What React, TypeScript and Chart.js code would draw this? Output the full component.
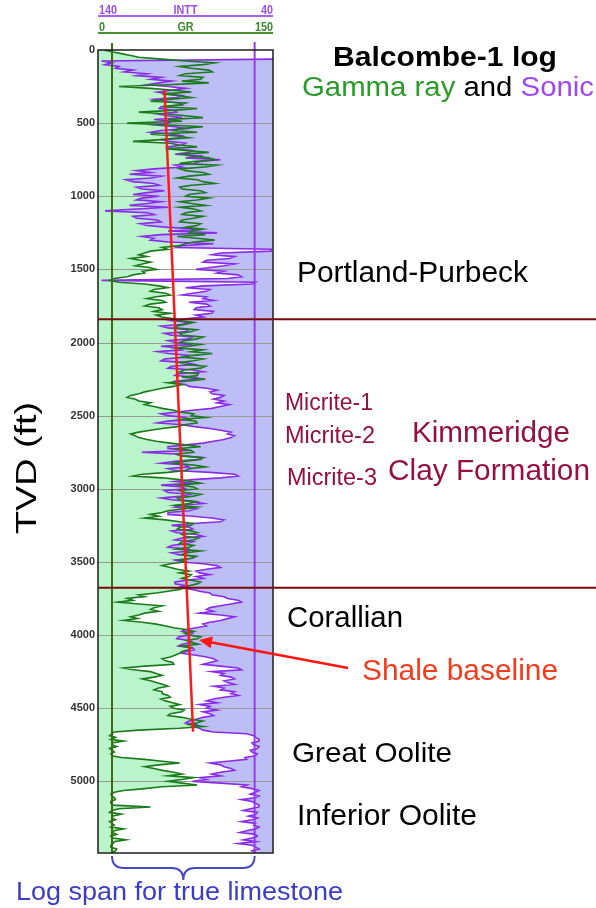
import React, { useEffect, useRef } from "react";
import { Chart, registerables } from "chart.js";

Chart.register(...registerables);

// ---------- DATA ----------
// Depth sampling grid (ft TVD), 12.5 ft spacing
const DEPTH_FT: number[] = Array.from({ length: 440 }, (_, i) => i * 12.5);

// Gamma ray (API), 40 samples per 500 ft
const GR_API: number[] = [
  // 0-487.5
  5, 12, 20, 28, 35, 55, 75, 100, 90, 70, 80, 95, 98, 75, 70, 90, 88, 72, 95, 60,
  18, 45, 65, 80, 55, 70, 80, 60, 45, 75, 70, 55, 85, 65, 35, 60, 75, 90, 60, 72,
  // 500-987.5
  25, 60, 90, 70, 65, 85, 45, 68, 78, 55, 30, 62, 70, 85, 58, 75, 95, 72, 80, 95,
  100, 82, 70, 102, 92, 70, 75, 90, 95, 78, 68, 85, 90, 100, 80, 70, 72, 88, 92, 78,
  // 1000-1487.5
  75, 95, 85, 70, 80, 92, 70, 82, 88, 75, 72, 90, 82, 72, 70, 88, 85, 75, 90, 80,
  78, 92, 68, 85, 100, 82, 75, 70, 55, 60, 45, 40, 35, 42, 28, 36, 45, 38, 32, 44,
  // 1500-1987.5
  50, 38, 40, 30, 25, 14, 10, 18, 40, 52, 60, 48, 45, 58, 62, 50, 42, 55, 58, 45,
  40, 52, 55, 48, 62, 50, 55, 65, 70, 82, 75, 68, 65, 85, 80, 70, 72, 90, 85, 74,
  // 2000-2487.5
  70, 88, 78, 68, 90, 80, 98, 82, 72, 90, 82, 70, 75, 92, 88, 74, 70, 86, 85, 72,
  92, 78, 60, 72, 65, 55, 48, 40, 35, 28, 25, 32, 35, 45, 40, 48, 55, 65, 70, 82,
  // 2500-2987.5
  80, 92, 72, 84, 85, 74, 68, 55, 45, 35, 28, 32, 35, 42, 50, 62, 75, 88, 68, 80,
  82, 68, 72, 90, 88, 74, 65, 82, 92, 78, 75, 60, 38, 30, 55, 70, 80, 88, 70, 82,
  // 3000-3487.5
  85, 70, 75, 88, 82, 68, 70, 84, 78, 66, 85, 74, 60, 55, 45, 52, 40, 58, 70, 82,
  80, 70, 68, 80, 85, 72, 75, 86, 82, 72, 70, 82, 78, 68, 88, 76, 72, 84, 80, 70,
  // 3500-3987.5
  75, 62, 55, 62, 68, 78, 70, 80, 78, 72, 80, 88, 85, 78, 75, 70, 60, 50, 35, 40,
  25, 30, 17, 35, 55, 48, 45, 52, 40, 35, 28, 34, 22, 38, 50, 58, 65, 75, 82, 74,
  // 4000-4487.5
  78, 88, 85, 76, 80, 86, 72, 80, 78, 72, 70, 66, 62, 55, 58, 64, 65, 40, 22, 30,
  45, 50, 55, 48, 38, 45, 50, 56, 60, 52, 48, 55, 55, 60, 62, 54, 58, 64, 70, 62,
  // 4500-4987.5
  65, 74, 72, 62, 60, 72, 80, 90, 85, 78, 90, 70, 35, 14, 12, 10, 15, 11, 22, 12,
  12, 16, 10, 12, 14, 11, 12, 20, 40, 55, 70, 52, 40, 48, 55, 65, 72, 60, 82, 72,
  // 5000-5487.5
  60, 72, 85, 55, 40, 22, 14, 11, 12, 14, 15, 11, 11, 13, 45, 18, 12, 10, 20, 13,
  12, 15, 10, 12, 14, 11, 22, 14, 12, 16, 11, 13, 24, 14, 13, 11, 11, 16, 15, 12,
];

// Sonic interval transit time (us/ft), 40 samples per 500 ft
const INTT_US_FT: (number | null)[] = [
  // 0-487.5
  null, null, null, null, null, 40, 138, 132, 136, 128, 130, 120, 125, 112, 118, 104, 110, 98, 105, 112,
  100, 90, 98, 106, 100, 92, 95, 108, 102, 94, 92, 104, 105, 96, 95, 106, 100, 92, 108, 98,
  // 500-987.5
  100, 108, 96, 90, 104, 110, 98, 92, 94, 104, 100, 90, 92, 100, 97, 86, 88, 96, 80, 90,
  70, 82, 85, 96, 92, 108, 118, 110, 122, 104, 110, 124, 120, 108, 105, 118, 115, 102, 112, 120,
  // 1000-1487.5
  105, 115, 118, 104, 112, 122, 100, 118, 136, 112, 108, 120, 118, 106, 104, 116, 112, 100, 80, 100,
  72, 104, 115, 108, 110, 100, 74, 92, 95, 41, 41, 70, 75, 62, 65, 78, 80, 62, 68, 76,
  // 1500-1987.5
  84, 68, 72, 60, 58, 66, 138, 50, 52, 80, 90, 76, 78, 86, 92, 78, 80, 74, 88, 78,
  76, 84, 85, 74, 75, 84, 80, 90, 98, 88, 92, 104, 100, 88, 90, 102, 98, 86, 88, 100,
  // 2000-2487.5
  96, 86, 104, 94, 92, 106, 100, 88, 90, 102, 104, 90, 85, 98, 100, 86, 80, 94, 96, 84,
  82, 96, 98, 90, 88, 78, 72, 76, 75, 68, 70, 74, 68, 72, 65, 70, 75, 86, 95, 104,
  // 2500-2987.5
  100, 90, 88, 100, 106, 92, 85, 76, 70, 64, 66, 62, 64, 68, 74, 80, 90, 100, 100, 88,
  115, 96, 92, 80, 84, 96, 104, 90, 88, 100, 96, 76, 62, 60, 70, 86, 96, 86, 104, 92,
  // 3000-3487.5
  90, 102, 100, 88, 92, 104, 98, 86, 80, 92, 96, 84, 88, 100, 100, 86, 75, 68, 70, 86,
  98, 88, 86, 98, 95, 84, 80, 92, 96, 86, 90, 98, 100, 88, 88, 98, 94, 84, 86, 96,
  // 3500-3987.5
  92, 80, 72, 70, 78, 84, 82, 76, 84, 80, 90, 96, 96, 90, 94, 86, 82, 76, 75, 68,
  66, 60, 58, 64, 70, 76, 78, 74, 82, 70, 62, 66, 70, 76, 80, 78, 84, 90, 92, 86,
  // 4000-4487.5
  88, 94, 95, 88, 86, 92, 94, 86, 85, 90, 92, 84, 78, 74, 72, 76, 80, 70, 60, 58,
  75, 68, 70, 64, 62, 68, 66, 62, 74, 68, 70, 62, 64, 60, 68, 74, 78, 72, 82, 76,
  // 4500-4987.5
  78, 72, 80, 76, 74, 80, 84, 88, 90, 84, 86, 82, 80, 74, 55, 51, 50, 48, 48, 52,
  51, 48, 49, 53, 52, 49, 50, 56, 55, 66, 76, 70, 68, 64, 62, 70, 75, 70, 82, 78,
  // 5000-5487.5
  86, 70, 55, 58, 52, 48, 50, 53, 48, 50, 58, 52, 50, 48, 48, 53, 57, 49, 50, 54,
  49, 52, 58, 50, 51, 48, 50, 55, 59, 50, 49, 52, 57, 50, 60, 52, 50, 48, 52, 50,
];

const SHALE_BASELINE_DEPTH_FT = [275, 4660];
const SHALE_BASELINE_GR = [57, 81.5];
const FORMATION_TOPS_FT = [1840, 3676];
const DEPTH_TICKS_FT = [0, 500, 1000, 1500, 2000, 2500, 3000, 3500, 4000, 4500, 5000];
const LIMESTONE_GR = 12;
const LIMESTONE_INTT = 50.5;
const DEPTH_MAX_FT = 5490;
const GR_MIN = 0;
const GR_MAX = 150;
const INTT_LEFT = 140;
const INTT_RIGHT = 40;

// ---------- STYLE ----------
const FONT = '"Liberation Sans", Arial, Helvetica, sans-serif';
const W = 596;
const H = 908;

type Run = { text: string; color: string };
type Label = {
  runs: Run[];
  x: number;
  y: number;
  size: number;
  bold?: boolean;
  width?: number;
  align?: "left" | "center";
};

const KIM = "#931040";
const LABELS: Label[] = [
  { runs: [{ text: "Balcombe-1 log", color: "#000" }], x: 445, y: 66, size: 28, bold: true, width: 224, align: "center" },
  {
    runs: [
      { text: "Gamma ray", color: "#2a9a2a" },
      { text: " and ", color: "#000" },
      { text: "Sonic", color: "#a048f0" },
    ],
    x: 448, y: 96, size: 27, width: 292, align: "center",
  },
  { runs: [{ text: "Portland-Purbeck", color: "#000" }], x: 297, y: 282, size: 30, width: 231 },
  { runs: [{ text: "Micrite-1", color: KIM }], x: 285, y: 410, size: 23, width: 88 },
  { runs: [{ text: "Micrite-2", color: KIM }], x: 285, y: 443, size: 23, width: 90 },
  { runs: [{ text: "Micrite-3", color: KIM }], x: 287, y: 485, size: 23, width: 90 },
  { runs: [{ text: "Kimmeridge", color: KIM }], x: 412, y: 442, size: 30, width: 158 },
  { runs: [{ text: "Clay Formation", color: KIM }], x: 388, y: 480, size: 30, width: 202 },
  { runs: [{ text: "Corallian", color: "#000" }], x: 287, y: 627, size: 30, width: 116 },
  { runs: [{ text: "Shale baseline", color: "#f03c1c" }], x: 362, y: 680, size: 30, width: 196 },
  { runs: [{ text: "Great Oolite", color: "#000" }], x: 292, y: 762, size: 28, width: 160 },
  { runs: [{ text: "Inferior Oolite", color: "#000" }], x: 297, y: 825, size: 30, width: 180 },
  { runs: [{ text: "Log span for true limestone", color: "#3c3cc4" }], x: 16, y: 900, size: 26, width: 327 },
];

function drawLabel(ctx: CanvasRenderingContext2D, l: Label) {
  ctx.save();
  ctx.font = `${l.bold ? "bold " : ""}${l.size}px ${FONT}`;
  ctx.textBaseline = "alphabetic";
  ctx.textAlign = "left";
  const total = l.runs.reduce((s, r) => s + ctx.measureText(r.text).width, 0);
  const sx = l.width ? l.width / total : 1;
  const w = total * sx;
  const x0 = l.align === "center" ? l.x - w / 2 : l.x;
  ctx.translate(x0, l.y);
  ctx.scale(sx, 1);
  let cx = 0;
  for (const r of l.runs) {
    ctx.fillStyle = r.color;
    ctx.fillText(r.text, cx, 0);
    cx += ctx.measureText(r.text).width;
  }
  ctx.restore();
}

function drawHeader(
  ctx: CanvasRenderingContext2D,
  left: number,
  right: number,
  lineY: number,
  textColor: string,
  lineColor: string,
  lo: string,
  name: string,
  hi: string
) {
  ctx.save();
  ctx.strokeStyle = lineColor;
  ctx.lineWidth = 2;
  ctx.beginPath();
  ctx.moveTo(left, lineY);
  ctx.lineTo(right, lineY);
  ctx.stroke();
  ctx.font = `bold 12px ${FONT}`;
  ctx.fillStyle = textColor;
  ctx.textBaseline = "alphabetic";
  const by = lineY - 2;
  const put = (t: string, x: number, align: "left" | "center" | "right") => {
    ctx.save();
    ctx.textAlign = align;
    ctx.translate(x, by);
    ctx.scale(0.9, 1);
    ctx.fillText(t, 0, 0);
    ctx.restore();
  };
  put(lo, left + 1, "left");
  put(name, (left + right) / 2, "center");
  put(hi, right, "right");
  ctx.restore();
}

const logDecor = {
  id: "logDecor",
  beforeDatasetsDraw(chart: any) {
    const { ctx, chartArea: a, scales } = chart;
    const y = scales.y;
    ctx.save();
    ctx.strokeStyle = "#989898";
    ctx.lineWidth = 1;
    for (const t of y.ticks) {
      if (t.value <= 0) continue;
      const py = Math.round(y.getPixelForValue(t.value)) + 0.5;
      ctx.beginPath();
      ctx.moveTo(a.left, py);
      ctx.lineTo(a.right, py);
      ctx.stroke();
    }
    ctx.restore();
  },
  afterDatasetsDraw(chart: any) {
    const { ctx, chartArea: a, scales } = chart;
    const y = scales.y;
    const gr = scales.gr;
    const intt = scales.intt;
    ctx.save();
    const gx = gr.getPixelForValue(LIMESTONE_GR);
    const px = intt.getPixelForValue(LIMESTONE_INTT);
    ctx.lineWidth = 2;
    ctx.strokeStyle = "#3f6a12";
    ctx.beginPath();
    ctx.moveTo(gx, a.top - 7);
    ctx.lineTo(gx, a.bottom);
    ctx.stroke();
    ctx.strokeStyle = "#9b35f5";
    ctx.beginPath();
    ctx.moveTo(px, a.top - 8);
    ctx.lineTo(px, a.bottom);
    ctx.stroke();
    ctx.strokeStyle = "#1c1c1c";
    ctx.lineWidth = 1.5;
    ctx.strokeRect(a.left, a.top, a.right - a.left, a.bottom - a.top);
    ctx.strokeStyle = "#7a0a0a";
    ctx.lineWidth = 2;
    for (const d of FORMATION_TOPS_FT) {
      const py = y.getPixelForValue(d);
      ctx.beginPath();
      ctx.moveTo(a.left, py);
      ctx.lineTo(W, py);
      ctx.stroke();
    }
    ctx.restore();
  },
  afterDraw(chart: any) {
    const { ctx, chartArea: a, scales } = chart;
    const gr = scales.gr;
    const intt = scales.intt;
    drawHeader(ctx, intt.getPixelForValue(INTT_LEFT), intt.getPixelForValue(INTT_RIGHT), 16, "#9c4ee8", "#a660ea", String(INTT_LEFT), "INTT", String(INTT_RIGHT));
    drawHeader(ctx, gr.getPixelForValue(GR_MIN), gr.getPixelForValue(GR_MAX), 33, "#3a8c2a", "#4a9030", String(GR_MIN), "GR", String(GR_MAX));

    ctx.save();
    ctx.font = `30px ${FONT}`;
    ctx.fillStyle = "#000";
    ctx.textAlign = "center";
    ctx.textBaseline = "alphabetic";
    const tw = ctx.measureText("TVD (ft)").width;
    ctx.translate(36, 468);
    ctx.rotate(-Math.PI / 2);
    ctx.scale(132 / tw, 1);
    ctx.fillText("TVD (ft)", 0, 0);
    ctx.restore();

    for (const l of LABELS) drawLabel(ctx, l);

    ctx.save();
    ctx.strokeStyle = "#ff1414";
    ctx.fillStyle = "#ff1414";
    ctx.lineWidth = 2.5;
    const x1 = 348, y1 = 668, x2 = 199, y2 = 640;
    const ang = Math.atan2(y2 - y1, x2 - x1);
    ctx.beginPath();
    ctx.moveTo(x1, y1);
    ctx.lineTo(x2 - 8 * Math.cos(ang), y2 - 8 * Math.sin(ang));
    ctx.stroke();
    ctx.beginPath();
    ctx.moveTo(x2, y2);
    ctx.lineTo(x2 - 13 * Math.cos(ang) + 6 * Math.sin(ang), y2 - 13 * Math.sin(ang) - 6 * Math.cos(ang));
    ctx.lineTo(x2 - 13 * Math.cos(ang) - 6 * Math.sin(ang), y2 - 13 * Math.sin(ang) + 6 * Math.cos(ang));
    ctx.closePath();
    ctx.fill();
    ctx.restore();

    const gx = gr.getPixelForValue(LIMESTONE_GR);
    const px = intt.getPixelForValue(LIMESTONE_INTT);
    const mx = (gx + px) / 2;
    const top = a.bottom + 3;
    const mid = a.bottom + 15;
    const tip = a.bottom + 27;
    ctx.save();
    ctx.strokeStyle = "#4646cc";
    ctx.lineWidth = 2;
    ctx.beginPath();
    ctx.moveTo(gx, top);
    ctx.quadraticCurveTo(gx, mid, gx + 12, mid);
    ctx.lineTo(mx - 12, mid);
    ctx.quadraticCurveTo(mx, mid, mx, tip);
    ctx.quadraticCurveTo(mx, mid, mx + 12, mid);
    ctx.lineTo(px - 12, mid);
    ctx.quadraticCurveTo(px, mid, px, top);
    ctx.stroke();
    ctx.restore();
  },
};

export default function App() {
  const ref = useRef<HTMLCanvasElement>(null);

  useEffect(() => {
    const canvas = ref.current;
    if (!canvas) return;
    const toPoints = (vals: (number | null)[]) =>
      DEPTH_FT.map((d, i) => ({ y: d, x: vals[i] })).filter((p) => p.x !== null && p.x !== undefined);
    const grPts = toPoints(GR_API);
    const inttPts = toPoints(INTT_US_FT);
    const basePts = SHALE_BASELINE_DEPTH_FT.map((d, i) => ({ y: d, x: SHALE_BASELINE_GR[i] }));

    const chart = new Chart(canvas, {
      type: "line",
      data: {
        datasets: [
          { label: "Shale baseline", data: basePts, xAxisID: "gr", yAxisID: "y", borderColor: "#ff1a1a", borderWidth: 2.5, pointRadius: 0, fill: false },
          { label: "GR", data: grPts, xAxisID: "gr", yAxisID: "y", borderColor: "#1b7a1b", borderWidth: 1.6, pointRadius: 0, fill: false },
          { label: "INTT", data: inttPts, xAxisID: "intt", yAxisID: "y", borderColor: "#8a2be6", borderWidth: 1.6, pointRadius: 0, fill: false },
          { label: "INTT fill", data: inttPts, xAxisID: "intt", yAxisID: "y", borderColor: "rgba(0,0,0,0)", borderWidth: 0, backgroundColor: "#bebef7", pointRadius: 0, fill: { value: INTT_RIGHT } },
          { label: "GR fill", data: grPts, xAxisID: "gr", yAxisID: "y", borderColor: "rgba(0,0,0,0)", borderWidth: 0, backgroundColor: "#b9f4cb", pointRadius: 0, fill: { value: GR_MIN } },
        ] as any,
      },
      options: {
        indexAxis: "y",
        responsive: false,
        maintainAspectRatio: false,
        animation: false,
        devicePixelRatio: 1,
        layout: { padding: { left: 0, right: 323, top: 50, bottom: 55 } },
        elements: { line: { tension: 0 }, point: { radius: 0 } },
        scales: {
          y: {
            type: "linear",
            axis: "y",
            position: "left",
            reverse: true,
            min: 0,
            max: DEPTH_MAX_FT,
            afterFit: (s: any) => {
              s.width = 98;
            },
            afterBuildTicks: (s: any) => {
              s.ticks = DEPTH_TICKS_FT.map((v) => ({ value: v }));
            },
            grid: { display: false, drawTicks: false },
            border: { display: false },
            ticks: {
              autoSkip: false,
              padding: 3,
              color: "#333",
              font: { family: FONT, size: 11, weight: "bold" },
              callback: (v: any) => String(v),
            },
          },
          gr: { type: "linear", axis: "x", position: "top", min: GR_MIN, max: GR_MAX, display: false },
          intt: { type: "linear", axis: "x", position: "top", min: INTT_RIGHT, max: INTT_LEFT, reverse: true, display: false },
        } as any,
        plugins: {
          legend: { display: false },
          tooltip: { enabled: false },
          filler: { propagate: false, drawTime: "beforeDatasetsDraw" },
        } as any,
      } as any,
      plugins: [logDecor],
    });
    return () => chart.destroy();
  }, []);

  return (
    <div style={{ position: "absolute", left: 0, top: 0, width: W, height: H, background: "#fff" }}>
      <canvas ref={ref} width={W} height={H} style={{ display: "block" }} />
    </div>
  );
}
